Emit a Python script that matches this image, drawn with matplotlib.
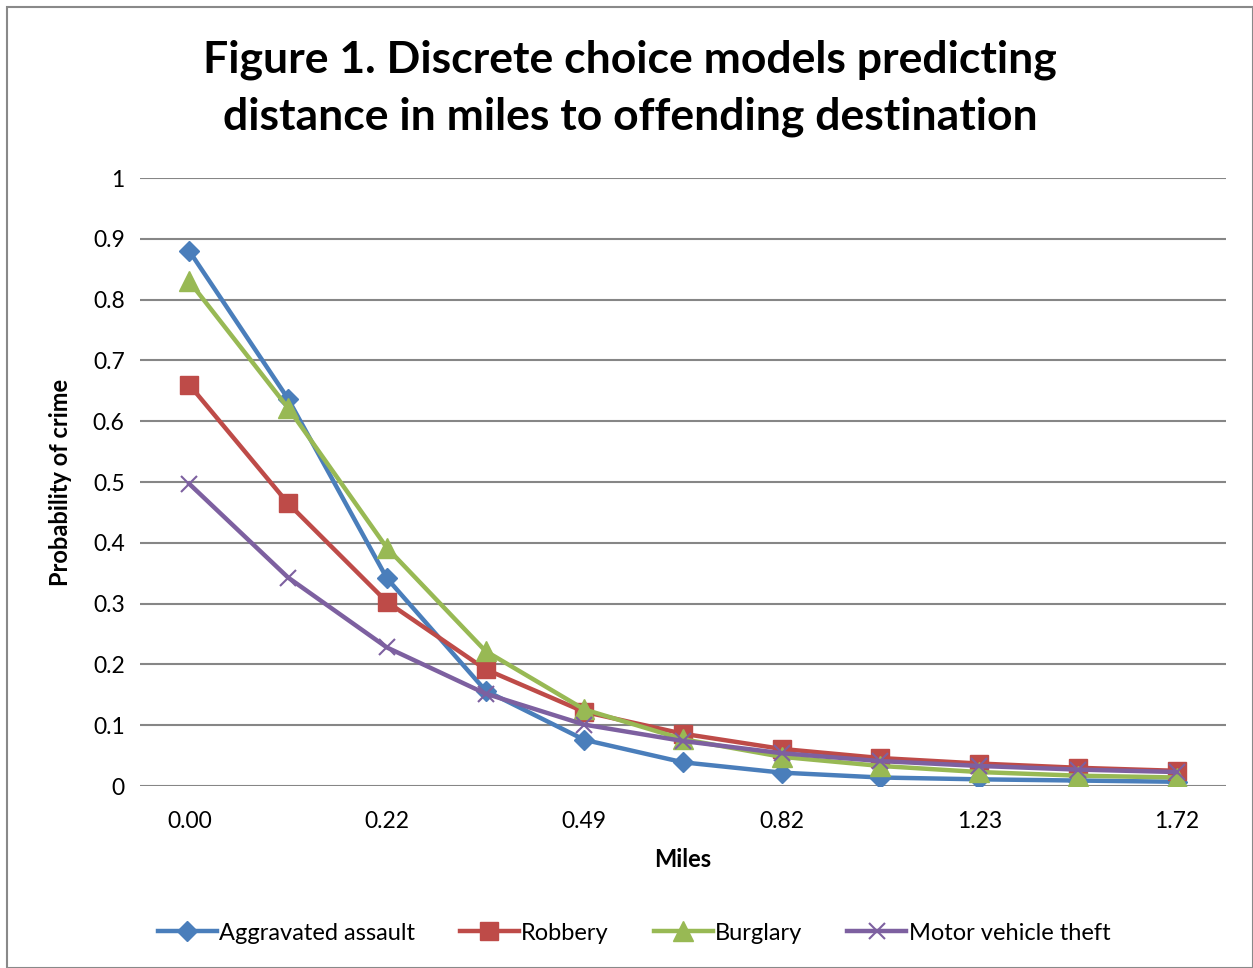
import matplotlib.pyplot as plt
from matplotlib.patches import Rectangle

# Data
miles_labels = ['0.00', '0.22', '0.49', '0.82', '1.23', '1.72']
assault = [0.88, 0.637, 0.342, 0.157, 0.076, 0.039, 0.022, 0.014, 0.011, 0.009, 0.007]
robbery = [0.66, 0.465, 0.303, 0.192, 0.122, 0.086, 0.061, 0.046, 0.037, 0.030, 0.025]
burglary = [0.83, 0.622, 0.392, 0.222, 0.126, 0.077, 0.048, 0.033, 0.023, 0.017, 0.014]
mvt = [0.497, 0.343, 0.228, 0.152, 0.101, 0.074, 0.054, 0.041, 0.033, 0.027, 0.023]

plt.rcParams['font.family'] = ['Lato', 'DejaVu Sans']

fig = plt.figure(figsize=(12.53, 9.68), dpi=100)
ax = fig.add_axes([0.1117, 0.188, 0.8668, 0.628])

x = range(len(assault))
lw = 3.2
ax.plot(x, assault, color='#4A7EBB', lw=lw, marker='D', ms=10, label='Aggravated assault')
ax.plot(x, robbery, color='#BE4B48', lw=lw, marker='s', ms=13, label='Robbery')
ax.plot(x, burglary, color='#98B954', lw=lw, marker='^', ms=14, label='Burglary')
ax.plot(x, mvt, color='#7D60A0', lw=lw, marker='x', ms=12, mew=1.5, label='Motor vehicle theft')

ax.set_xlim(-0.5, len(assault) - 0.5)
ax.set_ylim(0, 1)
ax.set_yticks([i / 10 for i in range(11)])
ax.set_yticklabels(['0'] + ['0.%d' % i for i in range(1, 10)] + ['1'])
ax.set_xticks(range(0, len(assault), 2))
ax.set_xticklabels(miles_labels)
ax.tick_params(length=0, labelsize=16.5, pad=18)
ax.tick_params(axis='y', pad=11)
ax.grid(axis='y', color='#868686', lw=1.5)
ax.set_axisbelow(True)
for s in ax.spines.values():
    s.set_visible(False)

ax.set_xlabel('Miles', fontsize=17, fontweight='bold', va='center')
ax.set_ylabel('Probability of crime', fontsize=17, fontweight='bold', va='center')
ax.xaxis.set_label_coords(0.5, -0.1217)
ax.yaxis.set_label_coords(-0.073, 0.5)

fig.text(0.503, 0.9086, 'Figure 1. Discrete choice models predicting\ndistance in miles to offending destination',
         ha='center', va='center', fontsize=32, fontweight='bold', linespacing=1.5)

fig.legend(loc='center', bbox_to_anchor=(0.506, 0.036), ncol=4, frameon=False,
           fontsize=17, handlelength=2.5, handletextpad=0.1, columnspacing=1.9)

fig.patches.append(Rectangle((7 / 1253, 0), 1 - 7 / 1253, 1 - 7 / 968, transform=fig.transFigure,
                             fill=False, edgecolor='#898989', lw=1.5))

fig.savefig('out.png', dpi=100)
